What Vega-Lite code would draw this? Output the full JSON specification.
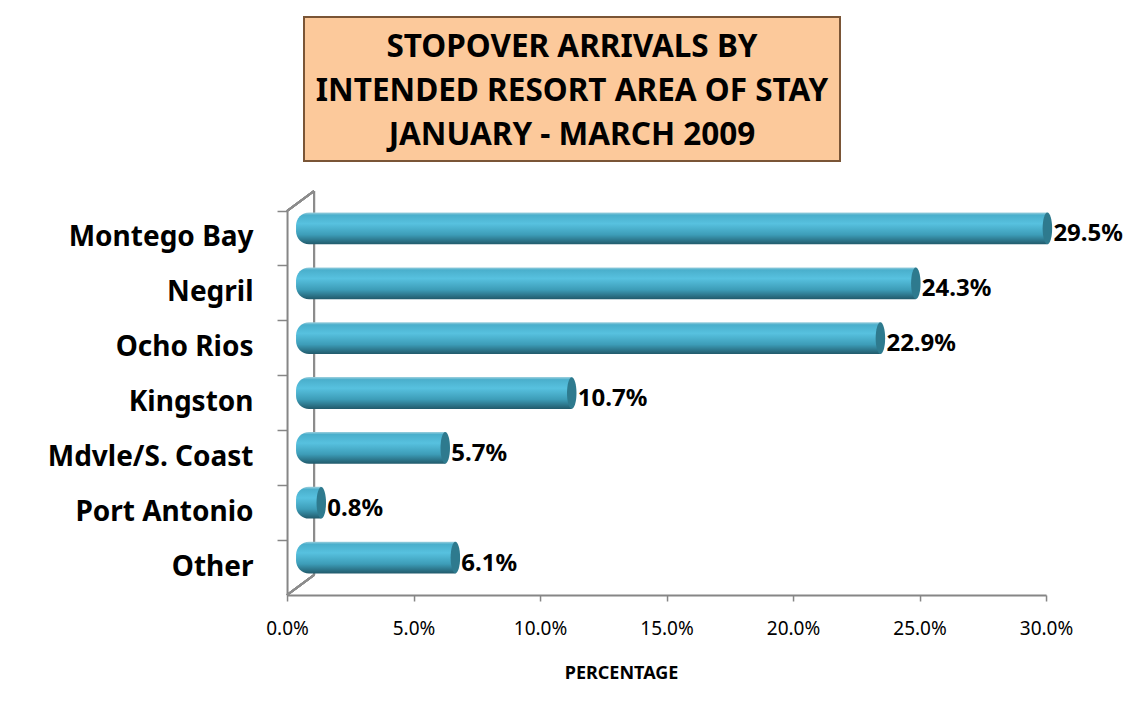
{
  "$schema": "https://vega.github.io/schema/vega-lite/v6.json",
  "background": "white",
  "padding": {"left": 47, "top": 16, "right": 0, "bottom": 0},
  "config": {"view": {"stroke": null}, "font": "Noto Sans"},
  "columns": 1,
  "center": true,
  "spacing": 28,
  "datasets": {
    "titleLines": [
      {"line": 1, "text": "STOPOVER ARRIVALS BY"},
      {"line": 2, "text": "INTENDED RESORT AREA OF STAY"},
      {"line": 3, "text": "JANUARY  - MARCH 2009"}
    ],
    "areas": [
      {"area": "Montego Bay", "pct": 0.295},
      {"area": "Negril", "pct": 0.243},
      {"area": "Ocho Rios", "pct": 0.229},
      {"area": "Kingston", "pct": 0.107},
      {"area": "Mdvle/S. Coast", "pct": 0.057},
      {"area": "Port Antonio", "pct": 0.008},
      {"area": "Other", "pct": 0.061}
    ]
  },
  "concat": [
    {
      "width": 536,
      "height": 144,
      "view": {"fill": "#fcc99b", "stroke": "#7a5536", "strokeWidth": 2},
      "data": {"name": "titleLines"},
      "mark": {"type": "text", "font": "Noto Sans", "fontWeight": "bold", "fontSize": 31.5, "color": "#000000", "baseline": "middle", "dy": 3},
      "encoding": {
        "y": {
          "field": "line", "type": "ordinal",
          "scale": {"padding": 0.62},
          "axis": {"orient": "right", "labels": false, "ticks": false, "domain": false, "grid": false, "title": null, "minExtent": 265, "maxExtent": 265}
        },
        "text": {"field": "text"}
      }
    },
    {
      "width": 759,
      "height": 384,
      "data": {"name": "areas"},
      "layer": [
        {
          "mark": {"type": "rule", "color": "#8c8c8c", "strokeWidth": 2, "xOffset": 27, "yOffset": -20, "y2Offset": -20},
          "encoding": {
            "x": {"datum": 0, "type": "quantitative"},
            "y": {"datum": "Montego Bay", "type": "nominal", "bandPosition": 0},
            "y2": {"datum": "Other", "bandPosition": 1}
          }
        },
        {
          "mark": {"type": "rule", "color": "#8c8c8c", "strokeWidth": 2, "x2Offset": 27, "y2Offset": -20},
          "encoding": {
            "x": {"datum": 0, "type": "quantitative"},
            "x2": {"datum": 0},
            "y": {"datum": "Montego Bay", "type": "nominal", "bandPosition": 0},
            "y2": {"datum": "Montego Bay", "bandPosition": 0}
          }
        },
        {
          "mark": {"type": "rule", "color": "#8c8c8c", "strokeWidth": 2, "x2Offset": 27, "y2Offset": -20},
          "encoding": {
            "x": {"datum": 0, "type": "quantitative"},
            "x2": {"datum": 0},
            "y": {"datum": "Other", "type": "nominal", "bandPosition": 1},
            "y2": {"datum": "Other", "bandPosition": 1}
          }
        },
        {
          "mark": {
            "type": "bar",
            "height": {"band": 0.58},
            "yOffset": -10,
            "xOffset": 14,
            "x2Offset": 9,
            "cornerRadiusTopLeft": 13,
            "cornerRadiusBottomLeft": 13,
            "color": {
              "gradient": "linear", "x1": 0, "y1": 0, "x2": 0, "y2": 1,
              "stops": [
                {"offset": 0, "color": "#9fd0de"},
                {"offset": 0.08, "color": "#4aafcc"},
                {"offset": 0.35, "color": "#57c1df"},
                {"offset": 0.7, "color": "#3d9db8"},
                {"offset": 1, "color": "#215a6b"}
              ]
            }
          },
          "encoding": {
            "x": {"field": "pct", "type": "quantitative"},
            "x2": {"datum": 0},
            "y": {"field": "area", "type": "nominal"}
          }
        },
        {
          "mark": {
            "type": "point",
            "shape": "M0,-1A0.3,1 0 1,1 0,1A0.3,1 0 1,1 0,-1Z",
            "filled": true,
            "size": 1000,
            "opacity": 1,
            "color": "#2e7a8e",
            "xOffset": 14,
            "yOffset": -10
          },
          "encoding": {
            "x": {"field": "pct", "type": "quantitative"},
            "y": {"field": "area", "type": "nominal"}
          }
        },
        {
          "mark": {"type": "text", "align": "left", "baseline": "middle", "dx": 20, "yOffset": -4, "font": "Noto Sans", "fontWeight": "bold", "fontSize": 24, "color": "#000000"},
          "encoding": {
            "x": {"field": "pct", "type": "quantitative"},
            "y": {"field": "area", "type": "nominal"},
            "text": {"field": "pct", "format": ".1%"}
          }
        }
      ],
      "encoding": {
        "x": {
          "type": "quantitative",
          "scale": {"domain": [0, 0.3], "nice": false},
          "axis": {
            "format": ".1%",
            "values": [0, 0.05, 0.1, 0.15, 0.2, 0.25, 0.3],
            "labelFlush": false,
            "labelOverlap": false,
            "grid": false,
            "domainColor": "#868686",
            "domainWidth": 2,
            "tickColor": "#868686",
            "tickWidth": 1.5,
            "tickSize": 6,
            "labelFont": "Noto Sans",
            "labelFontSize": 19,
            "labelColor": "#000000",
            "labelPadding": 18,
            "title": "PERCENTAGE",
            "titleX": 334,
            "titleFont": "Noto Sans",
            "titleFontSize": 18,
            "titleFontWeight": "bold",
            "titleColor": "#000000",
            "titlePadding": 26
          }
        },
        "y": {
          "type": "nominal",
          "sort": null,
          "scale": {"domain": ["Montego Bay", "Negril", "Ocho Rios", "Kingston", "Mdvle/S. Coast", "Port Antonio", "Other"], "paddingInner": 0, "paddingOuter": 0},
          "axis": {
            "title": null,
            "bandPosition": 0,
            "domainColor": "#868686",
            "domainWidth": 2,
            "tickColor": "#868686",
            "tickWidth": 1.5,
            "tickSize": 10,
            "labelFont": "Noto Sans",
            "labelFontSize": 28,
            "labelFontWeight": "bold",
            "labelColor": "#000000",
            "labelPadding": 24,
            "labelLimit": 400
          }
        }
      }
    }
  ]
}
